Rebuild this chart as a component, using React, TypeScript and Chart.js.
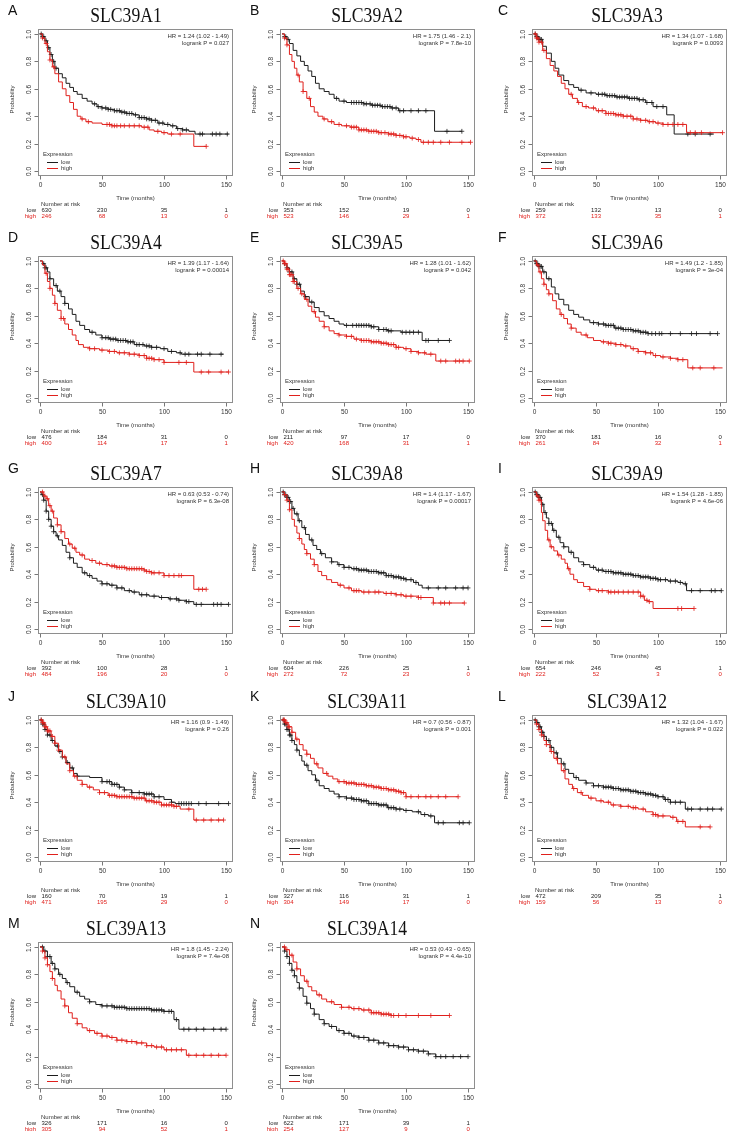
import React, { useEffect, useRef } from "react";
import { Chart, registerables } from "chart.js";
Chart.register(...registerables);

type Pt = [number, number];

const SANS = '"Liberation Sans", Arial, Helvetica, sans-serif';
const SERIF = '"Liberation Serif", "Times New Roman", serif';
const BLACK = "#1c1c1c";
const RED = "#e0201c";

const xTicks = [0, 50, 100, 150];
const yTicks = [0, 0.2, 0.4, 0.6, 0.8, 1.0];
const riskTimes = [0, 50, 100, 150];

// ---------- A: SLC39A1 ----------
const lowA: Pt[] = [[0,1],[2,0.98],[4,0.95],[6,0.9],[8,0.85],[10,0.8],[12,0.75],[15,0.71],[18,0.68],[21,0.64],[24,0.61],[27,0.58],[30,0.56],[34,0.53],[38,0.51],[42,0.49],[46,0.47],[50,0.46],[55,0.45],[60,0.44],[65,0.43],[70,0.42],[75,0.41],[80,0.39],[86,0.38],[90,0.37],[95,0.35],[100,0.34],[105,0.33],[110,0.31],[115,0.3],[120,0.29],[125,0.27],[152,0.27]];
const highA: Pt[] = [[0,1],[2,0.97],[4,0.93],[6,0.87],[8,0.81],[10,0.76],[12,0.71],[15,0.65],[18,0.6],[21,0.55],[24,0.5],[27,0.45],[30,0.4],[33,0.38],[37,0.36],[42,0.35],[50,0.34],[58,0.33],[75,0.33],[82,0.32],[88,0.3],[92,0.29],[98,0.28],[103,0.27],[124,0.18],[134,0.18]];
const cLowA = [1,2,3,5,7,9,11,13,44,47,50,53,55,57,60,62,64,66,68,70,72,74,77,80,82,84,86,88,90,93,96,99,103,107,111,115,118,129,131,139,142,145,151];
const cHighA = [2,5,8,11,34,39,54,56,58,60,62,65,68,72,76,80,84,87,95,100,106,113,134];
const riskLowA = [630, 230, 35, 1];
const riskHighA = [246, 68, 13, 0];

// ---------- B: SLC39A2 ----------
const lowB: Pt[] = [[0,1],[2,0.98],[4,0.96],[6,0.93],[9,0.88],[12,0.84],[15,0.8],[18,0.77],[21,0.73],[24,0.69],[27,0.64],[30,0.6],[34,0.58],[38,0.56],[42,0.53],[46,0.51],[52,0.5],[60,0.5],[66,0.49],[72,0.48],[80,0.47],[88,0.46],[94,0.44],[123,0.29],[145,0.29]];
const highB: Pt[] = [[0,1],[2,0.97],[4,0.92],[6,0.85],[8,0.8],[10,0.75],[12,0.7],[14,0.65],[17,0.58],[20,0.53],[23,0.47],[26,0.43],[29,0.4],[33,0.38],[37,0.36],[42,0.34],[48,0.33],[55,0.32],[62,0.3],[70,0.29],[78,0.28],[86,0.27],[92,0.26],[98,0.25],[103,0.24],[108,0.23],[112,0.21],[152,0.21]];
const cLowB = [2,3,5,44,50,56,58,60,62,64,66,68,71,73,75,77,79,81,83,85,87,89,92,95,98,104,110,116,133,145];
const cHighB = [2,4,13,17,22,34,40,46,52,56,58,60,62,64,66,68,70,72,74,76,78,80,83,86,88,90,92,95,98,100,105,110,114,118,122,128,135,145,152];
const riskLowB = [353, 152, 19, 0];
const riskHighB = [523, 146, 29, 1];

// ---------- C: SLC39A3 ----------
const lowC: Pt[] = [[0,1],[2,0.98],[4,0.96],[7,0.91],[10,0.86],[14,0.8],[17,0.75],[20,0.7],[24,0.66],[28,0.63],[32,0.61],[36,0.59],[42,0.57],[50,0.56],[58,0.55],[66,0.54],[76,0.53],[84,0.52],[90,0.5],[96,0.47],[107,0.41],[113,0.27],[145,0.27]];
const highC: Pt[] = [[0,1],[2,0.97],[4,0.94],[7,0.88],[10,0.82],[13,0.77],[16,0.73],[19,0.69],[22,0.64],[25,0.6],[28,0.56],[31,0.53],[35,0.5],[39,0.47],[44,0.46],[50,0.44],[58,0.42],[66,0.41],[72,0.4],[80,0.38],[86,0.37],[92,0.36],[98,0.35],[104,0.34],[123,0.28],[152,0.28]];
const cLowC = [1,2,3,4,5,6,38,46,52,55,57,59,61,63,65,67,69,71,73,75,77,79,81,83,85,88,91,95,99,104,124,130,142];
const cHighC = [1,2,3,4,6,8,30,36,42,48,52,55,58,60,62,64,66,68,70,72,75,78,80,83,86,90,93,96,100,104,108,112,116,120,126,130,135,152];
const riskLowC = [259, 132, 13, 0];
const riskHighC = [372, 133, 35, 1];

// ---------- D: SLC39A4 ----------
const lowD: Pt[] = [[0,1],[2,0.98],[4,0.95],[6,0.92],[8,0.87],[11,0.82],[14,0.78],[17,0.74],[20,0.69],[23,0.65],[26,0.61],[29,0.56],[32,0.53],[36,0.5],[40,0.48],[45,0.46],[50,0.44],[56,0.43],[62,0.42],[70,0.41],[76,0.39],[84,0.38],[90,0.37],[97,0.36],[103,0.34],[110,0.33],[114,0.32],[148,0.32]];
const highD: Pt[] = [[0,1],[2,0.97],[4,0.91],[6,0.85],[8,0.8],[10,0.75],[12,0.69],[14,0.64],[17,0.58],[20,0.54],[23,0.5],[26,0.46],[29,0.42],[31,0.39],[35,0.37],[40,0.36],[48,0.35],[55,0.34],[62,0.33],[72,0.32],[80,0.31],[86,0.29],[92,0.28],[100,0.26],[124,0.19],[152,0.19]];
const cLowD = [3,4,5,8,13,16,20,42,50,53,55,57,59,61,63,65,67,69,71,73,75,78,80,83,86,88,90,94,100,106,113,117,120,127,130,137,146];
const cHighD = [5,8,12,17,19,40,44,50,56,60,64,68,72,76,80,84,86,88,90,92,96,100,112,118,130,136,146,152];
const riskLowD = [476, 184, 31, 0];
const riskHighD = [400, 114, 17, 1];

// ---------- E: SLC39A5 ----------
const lowE: Pt[] = [[0,1],[2,0.98],[4,0.95],[6,0.92],[9,0.87],[12,0.83],[15,0.78],[18,0.74],[22,0.7],[26,0.66],[30,0.63],[34,0.6],[38,0.58],[42,0.56],[46,0.54],[50,0.53],[72,0.52],[78,0.5],[85,0.49],[96,0.48],[113,0.42],[135,0.42]];
const highE: Pt[] = [[0,1],[2,0.98],[4,0.94],[6,0.9],[9,0.85],[12,0.8],[15,0.76],[18,0.72],[21,0.67],[24,0.63],[27,0.59],[30,0.56],[34,0.52],[38,0.49],[42,0.47],[46,0.46],[52,0.45],[58,0.43],[64,0.42],[72,0.41],[80,0.4],[86,0.39],[92,0.37],[98,0.36],[104,0.34],[110,0.33],[116,0.32],[124,0.27],[151,0.27]];
const cLowE = [2,4,6,8,10,12,14,19,24,52,57,60,62,64,66,68,70,72,74,78,82,84,86,88,97,100,103,106,110,116,118,126,135];
const cHighE = [1,2,3,4,5,6,7,8,9,10,13,16,20,26,34,46,52,56,60,64,66,68,70,72,74,76,78,80,82,84,86,88,90,92,94,100,104,110,115,120,128,132,140,143,146,151];
const riskLowE = [211, 97, 17, 0];
const riskHighE = [420, 168, 31, 1];

// ---------- F: SLC39A6 ----------
const lowF: Pt[] = [[0,1],[2,0.98],[4,0.96],[7,0.92],[10,0.87],[14,0.81],[17,0.76],[20,0.72],[24,0.68],[28,0.64],[32,0.61],[36,0.59],[40,0.57],[45,0.55],[52,0.54],[58,0.53],[65,0.51],[72,0.5],[80,0.49],[86,0.48],[92,0.47],[148,0.47]];
const highF: Pt[] = [[0,1],[2,0.97],[4,0.92],[6,0.87],[8,0.83],[10,0.79],[12,0.76],[15,0.71],[18,0.65],[21,0.61],[24,0.58],[27,0.54],[30,0.51],[34,0.48],[38,0.46],[43,0.44],[48,0.42],[54,0.41],[60,0.4],[66,0.39],[72,0.38],[78,0.36],[84,0.34],[90,0.33],[96,0.31],[102,0.3],[110,0.29],[116,0.28],[124,0.22],[152,0.22]];
const cLowF = [1,2,3,4,5,6,8,12,48,52,56,58,60,62,64,66,68,70,72,74,76,78,80,82,84,86,88,90,92,95,98,101,103,110,118,127,131,142,148];
const cHighF = [3,5,8,12,22,30,42,56,60,62,66,70,74,80,84,90,94,98,104,110,116,120,128,134,145];
const riskLowF = [370, 181, 16, 0];
const riskHighF = [261, 84, 32, 1];

// ---------- G: SLC39A7 ----------
const lowG: Pt[] = [[0,1],[1,0.98],[3,0.94],[5,0.86],[7,0.8],[9,0.75],[11,0.71],[13,0.68],[15,0.65],[18,0.61],[21,0.56],[24,0.52],[27,0.48],[30,0.45],[34,0.41],[38,0.39],[42,0.37],[46,0.35],[50,0.33],[56,0.32],[62,0.3],[68,0.28],[74,0.27],[80,0.25],[88,0.24],[96,0.23],[104,0.22],[112,0.21],[118,0.2],[124,0.18],[152,0.18]];
const highG: Pt[] = [[0,1],[3,0.97],[5,0.95],[7,0.9],[9,0.86],[11,0.81],[14,0.76],[17,0.71],[20,0.66],[23,0.62],[26,0.59],[29,0.56],[32,0.54],[36,0.51],[40,0.5],[45,0.48],[50,0.47],[56,0.46],[62,0.45],[70,0.44],[84,0.43],[86,0.42],[90,0.41],[98,0.41],[100,0.39],[124,0.29],[134,0.29]];
const cLowG = [2,3,5,7,9,11,14,24,36,40,50,54,58,62,66,72,76,82,86,92,98,105,110,112,118,120,126,130,140,143,146,152];
const cHighG = [2,4,6,8,10,14,17,24,28,34,42,48,54,58,60,62,64,66,68,70,72,74,76,78,80,82,84,86,88,90,92,96,100,104,108,112,114,128,131,134];
const riskLowG = [392, 100, 28, 1];
const riskHighG = [484, 196, 20, 0];

// ---------- H: SLC39A8 ----------
const lowH: Pt[] = [[0,1],[2,0.98],[4,0.96],[6,0.93],[8,0.88],[10,0.84],[13,0.79],[16,0.74],[19,0.69],[22,0.65],[25,0.61],[28,0.58],[31,0.55],[35,0.52],[40,0.49],[45,0.47],[50,0.45],[56,0.44],[62,0.43],[70,0.42],[78,0.41],[84,0.39],[90,0.38],[96,0.37],[100,0.36],[106,0.34],[110,0.32],[113,0.3],[150,0.3]];
const highH: Pt[] = [[0,1],[2,0.98],[4,0.94],[6,0.87],[8,0.8],[10,0.75],[12,0.7],[14,0.66],[16,0.62],[18,0.58],[20,0.55],[23,0.51],[26,0.47],[29,0.42],[32,0.39],[36,0.36],[40,0.34],[45,0.32],[50,0.3],[56,0.28],[64,0.27],[75,0.27],[82,0.26],[92,0.25],[98,0.24],[110,0.23],[122,0.19],[147,0.19]];
const cLowH = [1,2,3,4,5,6,7,9,12,14,18,24,32,40,46,50,54,58,60,62,64,66,68,70,72,74,76,78,80,82,84,86,88,90,92,94,96,98,100,104,108,118,126,132,140,146,150];
const cHighH = [2,4,6,14,20,26,47,54,58,60,62,66,70,75,78,84,88,92,96,100,104,110,112,122,128,131,135,147];
const riskLowH = [604, 226, 25, 1];
const riskHighH = [272, 72, 23, 0];

// ---------- I: SLC39A9 ----------
const lowI: Pt[] = [[0,1],[2,0.98],[4,0.96],[6,0.91],[8,0.85],[10,0.81],[12,0.77],[15,0.72],[18,0.67],[21,0.63],[24,0.6],[28,0.56],[32,0.52],[36,0.49],[40,0.47],[45,0.45],[50,0.43],[56,0.42],[64,0.41],[72,0.4],[80,0.39],[86,0.38],[94,0.37],[100,0.36],[108,0.35],[116,0.34],[120,0.33],[123,0.28],[151,0.28]];
const highI: Pt[] = [[0,1],[2,0.97],[4,0.94],[6,0.85],[7,0.79],[9,0.72],[11,0.65],[13,0.6],[16,0.57],[19,0.54],[22,0.51],[25,0.48],[27,0.44],[29,0.4],[32,0.36],[35,0.34],[40,0.31],[45,0.29],[50,0.28],[60,0.27],[86,0.24],[89,0.21],[92,0.2],[96,0.15],[129,0.15]];
const cLowI = [1,2,3,4,5,7,9,12,14,16,20,24,30,40,48,52,55,58,60,62,64,66,68,70,72,74,76,78,80,82,84,86,88,90,92,94,96,98,100,102,106,110,114,118,122,127,134,143,146,151];
const cHighI = [3,4,5,12,14,20,28,45,52,55,60,62,65,68,72,76,80,84,86,88,91,93,116,119,129];
const riskLowI = [654, 246, 45, 1];
const riskHighI = [222, 52, 3, 0];

// ---------- J: SLC39A10 ----------
const lowJ: Pt[] = [[0,1],[2,0.97],[4,0.93],[6,0.89],[9,0.85],[12,0.81],[15,0.77],[18,0.73],[21,0.69],[24,0.65],[27,0.61],[30,0.59],[40,0.58],[50,0.55],[58,0.53],[64,0.51],[68,0.49],[74,0.47],[84,0.46],[92,0.44],[100,0.42],[106,0.4],[109,0.39],[152,0.39]];
const highJ: Pt[] = [[0,1],[2,0.98],[4,0.95],[6,0.92],[9,0.88],[12,0.83],[15,0.78],[18,0.73],[21,0.68],[24,0.63],[27,0.59],[30,0.56],[34,0.53],[38,0.51],[43,0.49],[48,0.47],[55,0.45],[62,0.44],[75,0.43],[85,0.41],[92,0.4],[98,0.38],[108,0.37],[113,0.35],[124,0.27],[148,0.27]];
const cLowJ = [1,2,3,4,6,8,10,14,16,18,22,26,30,50,54,56,58,60,62,64,68,74,80,84,86,88,90,92,96,106,112,114,116,118,120,122,128,134,144,152];
const cHighJ = [1,2,3,4,5,6,7,8,10,12,15,20,24,28,34,40,48,52,56,58,60,62,64,66,68,70,72,74,76,78,80,82,84,86,88,90,92,94,96,98,100,102,104,106,108,110,120,126,132,138,144,148];
const riskLowJ = [160, 70, 19, 1];
const riskHighJ = [471, 195, 29, 0];

// ---------- K: SLC39A11 ----------
const lowK: Pt[] = [[0,1],[2,0.97],[4,0.93],[6,0.89],[8,0.85],[10,0.82],[12,0.78],[14,0.74],[16,0.7],[18,0.67],[21,0.63],[24,0.6],[27,0.56],[30,0.52],[34,0.5],[38,0.48],[42,0.46],[46,0.44],[52,0.43],[58,0.42],[64,0.41],[70,0.39],[78,0.38],[85,0.36],[92,0.35],[98,0.34],[105,0.33],[112,0.31],[118,0.3],[123,0.25],[151,0.25]];
const highK: Pt[] = [[0,1],[3,0.98],[5,0.95],[8,0.91],[11,0.86],[14,0.82],[17,0.78],[20,0.75],[23,0.72],[26,0.68],[29,0.65],[33,0.61],[37,0.59],[41,0.57],[45,0.55],[52,0.54],[60,0.53],[68,0.52],[74,0.51],[80,0.5],[86,0.49],[92,0.48],[96,0.47],[100,0.44],[142,0.44]];
const cLowK = [1,2,3,4,5,6,7,8,12,20,28,46,52,56,58,60,62,64,66,68,70,72,74,76,78,80,82,84,86,88,90,92,95,100,110,115,120,126,130,143,146,151];
const cHighK = [1,2,3,4,5,6,8,12,20,28,36,46,50,52,54,56,58,60,62,64,66,68,70,72,74,76,78,80,82,84,86,88,90,92,94,96,98,100,104,110,116,120,126,132,142];
const riskLowK = [327, 116, 31, 1];
const riskHighK = [304, 149, 17, 0];

// ---------- L: SLC39A12 ----------
const lowL: Pt[] = [[0,1],[2,0.98],[4,0.95],[6,0.91],[8,0.88],[10,0.85],[13,0.8],[16,0.76],[19,0.72],[22,0.68],[25,0.64],[28,0.61],[32,0.58],[36,0.56],[42,0.54],[48,0.52],[56,0.51],[64,0.5],[70,0.49],[78,0.48],[84,0.47],[90,0.46],[96,0.45],[100,0.44],[105,0.42],[110,0.4],[122,0.35],[151,0.35]];
const highL: Pt[] = [[0,1],[2,0.97],[4,0.93],[6,0.89],[8,0.85],[10,0.82],[13,0.77],[16,0.72],[19,0.68],[22,0.63],[25,0.57],[28,0.53],[31,0.5],[35,0.47],[39,0.45],[44,0.43],[50,0.41],[56,0.4],[62,0.38],[70,0.37],[78,0.36],[84,0.35],[90,0.33],[96,0.31],[100,0.3],[110,0.29],[115,0.26],[122,0.22],[142,0.22]];
const cLowL = [1,2,3,4,5,6,7,8,10,12,14,18,24,34,42,48,52,56,58,60,62,64,66,68,70,72,74,76,78,80,82,84,86,88,90,92,94,96,98,100,104,106,108,110,114,118,124,127,134,140,144,151];
const cHighL = [2,4,6,10,14,18,24,32,38,46,54,60,64,70,76,80,82,88,96,98,100,104,112,116,120,134,142];
const riskLowL = [472, 209, 35, 1];
const riskHighL = [159, 56, 13, 0];

// ---------- M: SLC39A13 ----------
const lowM: Pt[] = [[0,1],[3,0.97],[6,0.93],[9,0.88],[12,0.84],[15,0.8],[18,0.77],[21,0.74],[24,0.71],[28,0.67],[32,0.64],[36,0.62],[40,0.6],[45,0.58],[50,0.57],[60,0.56],[70,0.55],[90,0.54],[100,0.53],[108,0.47],[112,0.4],[150,0.4]];
const highM: Pt[] = [[0,1],[2,0.97],[4,0.92],[6,0.87],[8,0.82],[10,0.77],[12,0.72],[14,0.68],[17,0.62],[20,0.57],[23,0.52],[26,0.48],[30,0.44],[34,0.41],[38,0.39],[44,0.37],[50,0.35],[56,0.34],[62,0.32],[70,0.31],[78,0.3],[86,0.28],[92,0.27],[100,0.25],[118,0.21],[150,0.21]];
const cLowM = [2,4,6,8,10,12,16,22,30,40,50,54,58,60,62,64,66,68,70,72,74,76,78,80,82,84,86,88,90,92,94,96,98,100,104,106,110,116,120,126,132,140,146,150];
const cHighM = [2,4,6,10,20,30,40,46,50,54,58,62,66,70,74,78,82,86,90,94,98,102,106,110,114,120,126,132,138,144,150];
const riskLowM = [326, 171, 16, 0];
const riskHighM = [305, 94, 52, 1];

// ---------- N: SLC39A14 ----------
const lowN: Pt[] = [[0,1],[2,0.97],[4,0.93],[6,0.88],[8,0.83],[10,0.79],[12,0.74],[14,0.7],[17,0.64],[20,0.59],[23,0.55],[26,0.51],[30,0.47],[34,0.44],[38,0.42],[44,0.39],[50,0.37],[56,0.35],[62,0.34],[70,0.32],[78,0.3],[86,0.28],[94,0.27],[102,0.25],[110,0.24],[118,0.22],[124,0.2],[150,0.2]];
const highN: Pt[] = [[0,1],[3,0.98],[6,0.94],[9,0.89],[12,0.84],[15,0.79],[18,0.75],[21,0.71],[24,0.68],[28,0.65],[32,0.62],[36,0.6],[42,0.58],[48,0.56],[56,0.55],[64,0.54],[72,0.52],[80,0.51],[88,0.5],[135,0.5]];
const cLowN = [2,4,6,8,10,14,20,26,34,40,46,50,54,58,62,66,70,74,78,82,86,90,94,98,102,106,110,114,118,124,128,132,138,144,150];
const cHighN = [2,4,8,12,20,30,40,48,54,58,62,66,70,72,74,76,78,80,82,84,86,88,90,94,100,110,120,135];
const riskLowN = [622, 171, 39, 1];
const riskHighN = [254, 127, 9, 0];

const letters = ["A","B","C","D","E","F","G","H","I","J","K","L","M","N"];
const genes = ["SLC39A1","SLC39A2","SLC39A3","SLC39A4","SLC39A5","SLC39A6","SLC39A7","SLC39A8","SLC39A9","SLC39A10","SLC39A11","SLC39A12","SLC39A13","SLC39A14"];
const hrTexts = [
  "HR = 1.24 (1.02 - 1.49)", "HR = 1.75 (1.46 - 2.1)", "HR = 1.34 (1.07 - 1.68)",
  "HR = 1.39 (1.17 - 1.64)", "HR = 1.28 (1.01 - 1.62)", "HR = 1.49 (1.2 - 1.85)",
  "HR = 0.63 (0.53 - 0.74)", "HR = 1.4 (1.17 - 1.67)", "HR = 1.54 (1.28 - 1.85)",
  "HR = 1.16 (0.9 - 1.49)", "HR = 0.7 (0.56 - 0.87)", "HR = 1.32 (1.04 - 1.67)",
  "HR = 1.8 (1.45 - 2.24)", "HR = 0.53 (0.43 - 0.65)",
];
const pTexts = [
  "logrank P = 0.027", "logrank P = 7.8e-10", "logrank P = 0.0093",
  "logrank P = 0.00014", "logrank P = 0.042", "logrank P = 3e-04",
  "logrank P = 6.3e-08", "logrank P = 0.00017", "logrank P = 4.6e-06",
  "logrank P = 0.26", "logrank P = 0.001", "logrank P = 0.022",
  "logrank P = 7.4e-08", "logrank P = 4.4e-10",
];
const lowCurves = [lowA,lowB,lowC,lowD,lowE,lowF,lowG,lowH,lowI,lowJ,lowK,lowL,lowM,lowN];
const highCurves = [highA,highB,highC,highD,highE,highF,highG,highH,highI,highJ,highK,highL,highM,highN];
const lowCensor = [cLowA,cLowB,cLowC,cLowD,cLowE,cLowF,cLowG,cLowH,cLowI,cLowJ,cLowK,cLowL,cLowM,cLowN];
const highCensor = [cHighA,cHighB,cHighC,cHighD,cHighE,cHighF,cHighG,cHighH,cHighI,cHighJ,cHighK,cHighL,cHighM,cHighN];
const riskLow = [riskLowA,riskLowB,riskLowC,riskLowD,riskLowE,riskLowF,riskLowG,riskLowH,riskLowI,riskLowJ,riskLowK,riskLowL,riskLowM,riskLowN];
const riskHigh = [riskHighA,riskHighB,riskHighC,riskHighD,riskHighE,riskHighF,riskHighG,riskHighH,riskHighI,riskHighJ,riskHighK,riskHighL,riskHighM,riskHighN];

// layout
const PW = 250;
const PH = 228;
const colX = [0, 242, 494];
const rowY = [0, 227, 458, 686, 913];
const letterX = [8, 8, 4];
const titleCX = [126, 125, 133];

function survAt(curve: Pt[], t: number): number {
  let s = curve[0][1];
  for (const [x, y] of curve) {
    if (x <= t) s = y; else break;
  }
  return s;
}

function makeDecor(i: number) {
  return {
    id: "decor" + i,
    afterDraw(chart: any) {
      const { ctx, chartArea: a, scales } = chart;
      const x = scales.x;
      const y = scales.y;
      ctx.save();
      // box
      ctx.strokeStyle = "#8e8e8e";
      ctx.lineWidth = 1;
      ctx.strokeRect(Math.round(a.left) + 0.5, Math.round(a.top) + 0.5, Math.round(a.width) - 1, Math.round(a.height) - 1);
      // y axis ticks
      ctx.strokeStyle = "#777";
      ctx.fillStyle = "#333";
      ctx.font = `6.5px ${SANS}`;
      for (const v of yTicks) {
        const py = Math.round(y.getPixelForValue(v)) + 0.5;
        ctx.beginPath();
        ctx.moveTo(a.left - 3.5, py);
        ctx.lineTo(a.left, py);
        ctx.stroke();
        ctx.save();
        ctx.translate(a.left - 8.5, py);
        ctx.rotate(-Math.PI / 2);
        ctx.textAlign = "center";
        ctx.textBaseline = "middle";
        ctx.fillText(v.toFixed(1), 0, 0);
        ctx.restore();
      }
      // x axis ticks
      for (const v of xTicks) {
        const px = Math.round(x.getPixelForValue(v)) + 0.5;
        ctx.beginPath();
        ctx.moveTo(px, a.bottom);
        ctx.lineTo(px, a.bottom + 3.5);
        ctx.stroke();
        ctx.textAlign = "center";
        ctx.textBaseline = "middle";
        ctx.fillText(String(v), px, a.bottom + 9.5);
      }
      ctx.font = `6px ${SANS}`;
      // axis titles
      ctx.save();
      ctx.translate(12, y.getPixelForValue(0.5) - 3);
      ctx.rotate(-Math.PI / 2);
      ctx.textAlign = "center";
      ctx.textBaseline = "middle";
      ctx.fillText("Probability", 0, 0);
      ctx.restore();
      const cx = (a.left + a.right) / 2;
      ctx.textAlign = "center";
      ctx.fillText("Time (months)", cx, a.bottom + 22);
      // HR text
      ctx.textAlign = "right";
      ctx.fillText(hrTexts[i], a.right - 4, a.top + 7);
      ctx.fillText(pTexts[i], a.right - 4, a.top + 14);
      // legend
      ctx.textAlign = "left";
      ctx.fillText("Expression", a.left + 5, a.bottom - 22);
      ctx.lineWidth = 1;
      ctx.strokeStyle = BLACK;
      ctx.beginPath();
      ctx.moveTo(a.left + 9, a.bottom - 13.5);
      ctx.lineTo(a.left + 20, a.bottom - 13.5);
      ctx.stroke();
      ctx.strokeStyle = RED;
      ctx.beginPath();
      ctx.moveTo(a.left + 9, a.bottom - 7.5);
      ctx.lineTo(a.left + 20, a.bottom - 7.5);
      ctx.stroke();
      ctx.fillText("low", a.left + 23, a.bottom - 13.5);
      ctx.fillText("high", a.left + 23, a.bottom - 7.5);
      // number at risk
      const x0 = x.getPixelForValue(0);
      ctx.fillText("Number at risk", x0 + 1, a.bottom + 28);
      const rows: [string, number[], string, number][] = [
        ["low", riskLow[i], "#222", a.bottom + 34],
        ["high", riskHigh[i], RED, a.bottom + 40],
      ];
      for (const [lab, vals, col, ry] of rows) {
        ctx.fillStyle = col;
        ctx.textAlign = "right";
        ctx.fillText(lab, x0 - 4, ry);
        riskTimes.forEach((t, k) => {
          ctx.textAlign = k === 0 ? "left" : "center";
          const px = x.getPixelForValue(t) + (k === 0 ? 1.5 : 0);
          ctx.fillText(String(vals[k]), px, ry);
        });
      }
      ctx.restore();
    },
  };
}

function Panel({ i }: { i: number }) {
  const ref = useRef<HTMLCanvasElement>(null);
  const col = i % 3;
  const row = Math.floor(i / 3);
  useEffect(() => {
    const low = lowCurves[i];
    const high = highCurves[i];
    const pts = (c: Pt[]) => c.map(([t, s]) => ({ x: t, y: s }));
    const cens = (c: Pt[], ts: number[]) => ts.map((t) => ({ x: t, y: survAt(c, t) }));
    const chart = new Chart(ref.current as HTMLCanvasElement, {
      type: "line",
      data: {
        datasets: [
          { data: pts(high), stepped: true, borderColor: RED, borderWidth: 1, pointRadius: 0, fill: false },
          { data: cens(high, highCensor[i]), showLine: false, pointStyle: "cross", pointRadius: 2.4, borderColor: RED, borderWidth: 0.8 },
          { data: pts(low), stepped: true, borderColor: BLACK, borderWidth: 1, pointRadius: 0, fill: false },
          { data: cens(low, lowCensor[i]), showLine: false, pointStyle: "cross", pointRadius: 2.4, borderColor: BLACK, borderWidth: 0.8 },
        ] as any,
      },
      options: {
        animation: false,
        responsive: false,
        maintainAspectRatio: false,
        events: [],
        layout: { padding: { left: 38, top: 29, right: PW - 233, bottom: PH - 176 } },
        scales: {
          x: { type: "linear", min: -1.6, max: 155.6, display: false },
          y: { type: "linear", min: -0.036, max: 1.036, display: false },
        },
        plugins: { legend: { display: false }, tooltip: { enabled: false } },
      },
      plugins: [makeDecor(i)],
    });
    return () => chart.destroy();
  }, [i]);
  return (
    <div style={{ position: "absolute", left: colX[col], top: rowY[row], width: PW, height: PH }}>
      <canvas ref={ref} width={PW} height={PH} style={{ position: "absolute", left: 0, top: 0, width: PW, height: PH }} />
      <div style={{ position: "absolute", left: letterX[col], top: 3, font: `14px ${SANS}`, lineHeight: "14px", color: "#111" }}>
        {letters[i]}
      </div>
      <div
        style={{
          position: "absolute",
          left: titleCX[col] - 70,
          width: 140,
          top: 4,
          textAlign: "center",
          font: `22px ${SERIF}`,
          lineHeight: "22px",
          color: "#111",
          transform: "scaleX(0.8)",
          whiteSpace: "nowrap",
        }}
      >
        {genes[i]}
      </div>
    </div>
  );
}

export default function App() {
  return (
    <div style={{ position: "absolute", left: 0, top: 0, width: 739, height: 1131, overflow: "hidden", background: "#fff" }}>
      {genes.map((_, i) => (
        <Panel key={i} i={i} />
      ))}
    </div>
  );
}
